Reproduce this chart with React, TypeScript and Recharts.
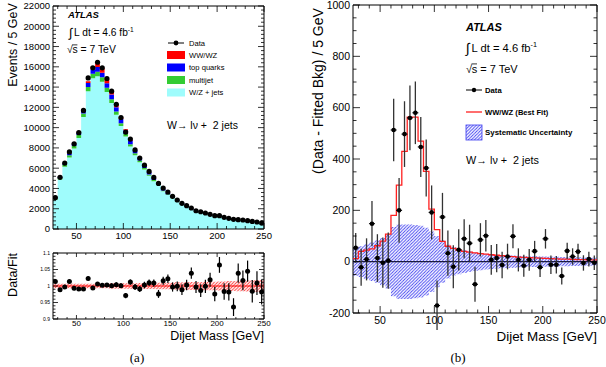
import React from 'react'
import {
  ComposedChart,
  Area,
  Line,
  Scatter,
  XAxis,
  YAxis,
  ErrorBar,
  ReferenceLine,
  ReferenceArea,
} from 'recharts'

// bin edges of the 5 GeV histogram (last entry closes the final bin)
const binEdges = [
  25, 30, 35, 40, 45, 50, 55, 60, 65, 70, 75, 80, 85, 90, 95, 100, 105, 110, 115, 120, 125, 130, 135,
  140, 145, 150, 155, 160, 165, 170, 175, 180, 185, 190, 195, 200, 205, 210, 215, 220, 225, 230, 235,
  240, 245, 250,
]

// (a) stacked prediction and data
const dataCounts = [
  3100, 5100, 6500, 7600, 8400, 9500, 11700, 14900, 15900, 16450, 15900, 14850, 13600, 12300, 11000,
  9560, 8870, 7800, 7000, 6300, 5680, 5090, 4500, 4040, 3650, 3220, 2860, 2530, 2300, 2070, 1800, 1700,
  1580, 1450, 1310, 1310, 1150, 1050, 950, 920, 890, 820, 750, 690, 600,
]
const wzJets = [
  2880, 4880, 6140, 7050, 7940, 8980, 11050, 13600, 14870, 15060, 14520, 13520, 12440, 11260, 10150,
  9130, 8140, 7280, 6580, 5860, 5250, 4720, 4330, 3720, 3350, 3040, 2700, 2410, 2160, 1880, 1700, 1630,
  1500, 1350, 1280, 1170, 1110, 1020, 970, 840, 835, 750, 725, 650, 585,
]
const multijet = [
  100, 150, 200, 230, 260, 290, 350, 420, 450, 460, 440, 410, 370, 330, 290, 250, 220, 190, 170, 150,
  130, 115, 100, 90, 80, 70, 60, 55, 50, 45, 40, 38, 35, 32, 30, 28, 26, 24, 22, 20, 19, 18, 17, 16, 15,
]
const topQuarks = [
  60, 100, 140, 170, 200, 240, 300, 380, 420, 450, 460, 460, 450, 430, 400, 370, 340, 300, 270, 240,
  210, 180, 160, 140, 120, 100, 90, 80, 70, 60, 50, 45, 40, 35, 30, 28, 25, 22, 20, 18, 16, 15, 14, 12, 10,
]
const dibosonStack = [
  20, 30, 40, 50, 60, 80, 110, 170, 260, 380, 450, 420, 330, 230, 150, 100, 70, 50, 40, 35, 30, 28, 25,
  22, 20, 18, 16, 14, 12, 11, 10, 9, 8, 8, 7, 7, 6, 6, 5, 5, 5, 4, 4, 4, 3,
]

// (a) lower pad: data / fit
const ratioValues = [
  1.014, 0.989, 0.997, 1.014, 0.993, 0.991, 0.991, 1.023, 0.994, 1.006, 1.002, 1.003, 1.001, 1.004,
  1.001, 0.971, 1.012, 0.997, 0.991, 1.003, 1.01, 1.009, 0.976, 1.016, 1.022, 0.997, 0.999, 0.989,
  1.003, 1.039, 0.997, 0.986, 0.999, 1.019, 0.976, 1.064, 0.983, 0.982, 0.936, 1.039, 1.017, 1.045,
  0.984, 1.009, 0.982,
]
const ratioErrors = [
  0.006, 0.006, 0.006, 0.006, 0.006, 0.006, 0.006, 0.006, 0.006, 0.006, 0.006, 0.006, 0.007, 0.007,
  0.007, 0.008, 0.008, 0.009, 0.009, 0.01, 0.01, 0.011, 0.012, 0.012, 0.013, 0.014, 0.015, 0.016,
  0.016, 0.017, 0.018, 0.019, 0.02, 0.021, 0.022, 0.024, 0.025, 0.026, 0.027, 0.029, 0.03, 0.032,
  0.034, 0.036, 0.038,
]
const fitBand = [
  0.007, 0.007, 0.007, 0.007, 0.007, 0.007, 0.007, 0.007, 0.007, 0.007, 0.007, 0.007, 0.008, 0.008,
  0.008, 0.008, 0.008, 0.008, 0.009, 0.009, 0.009, 0.009, 0.01, 0.01, 0.01, 0.01, 0.011, 0.011, 0.011,
  0.012, 0.012, 0.012, 0.013, 0.013, 0.013, 0.014, 0.014, 0.015, 0.015, 0.016, 0.016, 0.017, 0.017,
  0.018, 0.018,
]

// (b) background-subtracted data
const subtracted = [
  54, -22, 9, 148, 14, -4, 4, 513, 200, 497, 560, 580, 447, 365, 192, -171, 174, 33, -20, 46, 89, 72,
  -88, 85, 101, 7, 14, -13, 20, 99, 7, -16, 7, 41, -22, 89, -12, -12, -56, 42, 20, 39, -5, 10, -4,
]
const subtractedErrors = [
  58, 72, 82, 88, 93, 98, 110, 122, 126, 128, 126, 122, 117, 111, 105, 98, 94, 88, 84, 80, 76, 72, 68,
  65, 61, 58, 55, 52, 50, 47, 45, 43, 42, 40, 38, 38, 36, 34, 33, 32, 32, 31, 30, 29, 28,
]
const dibosonFit = [
  12, 40, 45, 50, 62, 80, 107, 180, 298, 430, 563, 563, 470, 352, 205, 125, 79, 60, 52, 45, 40, 37, 34,
  31, 29, 27, 25, 23, 21, 20, 18, 17, 16, 15, 14, 13, 12, 11, 10, 10, 9, 8, 8, 7, 7,
]
const systUnc = [
  55, 60, 68, 75, 82, 92, 105, 135, 145, 145, 145, 143, 140, 132, 118, 100, 82, 66, 56, 49, 44, 40, 36,
  33, 31, 29, 27, 26, 25, 24, 23, 22, 21, 21, 20, 20, 19, 19, 18, 18, 17, 17, 16, 16, 15,
]

const countTicks = [0, 2000, 4000, 6000, 8000, 10000, 12000, 14000, 16000, 18000, 20000, 22000]
const massTicks = [50, 100, 150, 200, 250]
const ratioTicks = [0.9, 0.95, 1, 1.05, 1.1]
const ratioTickLabels = ['0.9', '0.95', '1', '1.05', '1.1']
const diffTicks = [-200, 0, 200, 400, 600, 800, 1000]

const FONT = '"Liberation Sans", Arial, Helvetica, sans-serif'
const last = dataCounts.length - 1

const stackRows = binEdges.map((x, i) => {
  const j = Math.min(i, last)
  return { x, wz: wzJets[j], mj: multijet[j], top: topQuarks[j], vv: dibosonStack[j] }
})
const dataPoints = dataCounts.map((y, i) => ({ x: binEdges[i] + 2.5, y }))
const ratioRows = binEdges.map((x, i) => {
  const j = Math.min(i, last)
  return { x, band: [1 - fitBand[j], 1 + fitBand[j]] }
})
const ratioPoints = ratioValues.map((y, i) => ({ x: binEdges[i] + 2.5, y, e: ratioErrors[i] }))
const diffRows = binEdges.map((x, i) => {
  const j = Math.min(i, last)
  return { x, fit: dibosonFit[j], syst: [-systUnc[j], systUnc[j]] }
})
const diffPoints = subtracted.map((y, i) => ({ x: binEdges[i] + 2.5, y, e: subtractedErrors[i] }))

function steps(lo: number, hi: number, step: number) {
  const out: number[] = []
  const n = Math.round((hi - lo) / step)
  for (let i = 0; i <= n; i++) out.push(+(lo + i * step).toFixed(6))
  return out
}

type TickOpts = {
  plotLen: number
  majors: number[]
  labels: string[]
  font: number
  majorLen: number
  minorLen: number
  gap: number
}

// ROOT style: ticks inside on both sides, labels outside
function yTick(o: TickOpts) {
  return (p: any) => {
    const v = p.payload.value
    const k = o.majors.findIndex((m) => Math.abs(m - v) < 1e-6)
    const ax = p.x + o.gap
    const len = k >= 0 ? o.majorLen : o.minorLen
    return (
      <g>
        <line x1={ax} x2={ax + len} y1={p.y} y2={p.y} stroke="#000" strokeWidth={0.8} />
        <line x1={ax + o.plotLen - len} x2={ax + o.plotLen} y1={p.y} y2={p.y} stroke="#000" strokeWidth={0.8} />
        {k >= 0 && (
          <text x={p.x} y={p.y} dy="0.36em" textAnchor="end" fontSize={o.font} fontFamily={FONT} fill="#000">
            {o.labels[k]}
          </text>
        )}
      </g>
    )
  }
}

function xTick(o: TickOpts) {
  return (p: any) => {
    const v = p.payload.value
    const k = o.majors.findIndex((m) => Math.abs(m - v) < 1e-6)
    const ay = p.y - o.gap
    const len = k >= 0 ? o.majorLen : o.minorLen
    return (
      <g>
        <line x1={p.x} x2={p.x} y1={ay} y2={ay - len} stroke="#000" strokeWidth={0.8} />
        <line x1={p.x} x2={p.x} y1={ay - o.plotLen} y2={ay - o.plotLen + len} stroke="#000" strokeWidth={0.8} />
        {k >= 0 && (
          <text x={p.x} y={p.y} dy="0.72em" textAnchor="middle" fontSize={o.font} fontFamily={FONT} fill="#000">
            {o.labels[k]}
          </text>
        )}
      </g>
    )
  }
}

const dot = (r: number, arm: number) => (p: any) =>
  (
    <g>
      {arm > 0 && <line x1={p.cx - arm} x2={p.cx + arm} y1={p.cy} y2={p.cy} stroke="#000" strokeWidth={1} />}
      <circle cx={p.cx} cy={p.cy} r={r} fill="#000" />
    </g>
  )

function Hatch({ id, color }: { id: string; color: string }) {
  return (
    <pattern id={id} width={3.2} height={3.2} patternUnits="userSpaceOnUse">
      <path d="M-0.8,0.8 l1.6,-1.6 M0,3.2 l3.2,-3.2 M2.4,4 l1.6,-1.6" stroke={color} strokeWidth={0.9} />
    </pattern>
  )
}

function MainPanel() {
  return (
    <ComposedChart width={275} height={245} data={stackRows} margin={{ top: 6, right: 11, bottom: 0, left: 0 }}>
      <Area type="stepAfter" dataKey="wz" stackId="s" fill="#9ffcfc" fillOpacity={1} stroke="none" isAnimationActive={false} />
      <Area type="stepAfter" dataKey="mj" stackId="s" fill="#33cc33" fillOpacity={1} stroke="none" isAnimationActive={false} />
      <Area type="stepAfter" dataKey="top" stackId="s" fill="#0000ff" fillOpacity={1} stroke="none" isAnimationActive={false} />
      <Area type="stepAfter" dataKey="vv" stackId="s" fill="#ff0000" fillOpacity={1} stroke="none" isAnimationActive={false} />
      <Scatter data={dataPoints} dataKey="y" shape={dot(2.6, 0)} isAnimationActive={false} />
      <ReferenceArea x1={25} x2={250} y1={0} y2={22000} fill="none" stroke="#000" strokeWidth={1} />
      <XAxis
        type="number"
        dataKey="x"
        domain={[25, 250]}
        allowDataOverflow
        ticks={steps(30, 250, 10)}
        interval={0}
        height={16}
        tickSize={0}
        tickMargin={3}
        tickLine={false}
        axisLine={false}
        tick={xTick({ plotLen: 223, majors: massTicks, labels: massTicks.map(String), font: 9.5, majorLen: 6, minorLen: 3, gap: 3 })}
      />
      <YAxis
        type="number"
        domain={[0, 22000]}
        allowDataOverflow
        ticks={steps(0, 22000, 400)}
        interval={0}
        width={53}
        tickSize={0}
        tickMargin={3}
        tickLine={false}
        axisLine={false}
        tick={yTick({ plotLen: 211, majors: countTicks, labels: countTicks.map(String), font: 9.5, majorLen: 6, minorLen: 3, gap: 3 })}
      />
    </ComposedChart>
  )
}

function RatioPanel() {
  return (
    <ComposedChart width={275} height={86} data={ratioRows} margin={{ top: 6, right: 11, bottom: 0, left: 0 }}>
      <defs>
        <Hatch id="redHatch" color="#ff3030" />
      </defs>
      <Area type="stepAfter" dataKey="band" fill="url(#redHatch)" fillOpacity={1} stroke="none" isAnimationActive={false} />
      <ReferenceLine y={1} stroke="#ff0000" strokeWidth={1.2} />
      <Scatter data={ratioPoints} dataKey="y" shape={dot(2.5, 0)} isAnimationActive={false}>
        <ErrorBar dataKey="e" direction="y" width={0} stroke="#000" strokeWidth={1.2} />
      </Scatter>
      <ReferenceArea x1={25} x2={250} y1={0.9} y2={1.1} fill="none" stroke="#000" strokeWidth={1} />
      <XAxis
        type="number"
        dataKey="x"
        domain={[25, 250]}
        allowDataOverflow
        ticks={steps(30, 250, 10)}
        interval={0}
        height={14}
        tickSize={0}
        tickMargin={1}
        tickLine={false}
        axisLine={false}
        tick={xTick({ plotLen: 66, majors: massTicks, labels: massTicks.map(String), font: 8, majorLen: 4, minorLen: 2, gap: 1 })}
      />
      <YAxis
        type="number"
        domain={[0.9, 1.1]}
        allowDataOverflow
        ticks={steps(0.9, 1.1, 0.01)}
        interval={0}
        width={53}
        tickSize={0}
        tickMargin={3}
        tickLine={false}
        axisLine={false}
        tick={yTick({ plotLen: 211, majors: ratioTicks, labels: ratioTickLabels, font: 5, majorLen: 5, minorLen: 2.5, gap: 3 })}
      />
    </ComposedChart>
  )
}

function DiffPanel() {
  return (
    <ComposedChart width={306} height={330} data={diffRows} margin={{ top: 5, right: 9, bottom: 0, left: 0 }}>
      <defs>
        <Hatch id="blueHatch" color="#3b3bf0" />
      </defs>
      <Line type="stepAfter" dataKey="fit" stroke="#ff2020" strokeWidth={1.3} dot={false} isAnimationActive={false} />
      <Area type="stepAfter" dataKey="syst" fill="url(#blueHatch)" fillOpacity={1} stroke="none" isAnimationActive={false} />
      <ReferenceLine y={0} stroke="#1a1a40" strokeWidth={1.2} />
      <Scatter data={diffPoints} dataKey="y" shape={dot(2.3, 3)} isAnimationActive={false}>
        <ErrorBar dataKey="e" direction="y" width={0} stroke="#333" strokeWidth={1.3} />
      </Scatter>
      <ReferenceArea x1={25} x2={250} y1={-200} y2={1000} fill="none" stroke="#000" strokeWidth={1} />
      <XAxis
        type="number"
        dataKey="x"
        domain={[25, 250]}
        allowDataOverflow
        ticks={steps(30, 250, 10)}
        interval={0}
        height={17}
        tickSize={0}
        tickMargin={3}
        tickLine={false}
        axisLine={false}
        tick={xTick({ plotLen: 308, majors: massTicks, labels: massTicks.map(String), font: 10.5, majorLen: 7, minorLen: 3.5, gap: 3 })}
      />
      <YAxis
        type="number"
        domain={[-200, 1000]}
        allowDataOverflow
        ticks={steps(-200, 1000, 50)}
        interval={0}
        width={53}
        tickSize={0}
        tickMargin={3}
        tickLine={false}
        axisLine={false}
        tick={yTick({ plotLen: 244, majors: diffTicks, labels: diffTicks.map(String), font: 10.5, majorLen: 7, minorLen: 3.5, gap: 3 })}
      />
    </ComposedChart>
  )
}

function Lumi({ x, y, size }: { x: number; y: number; size: number }) {
  return (
    <g fontFamily={FONT} fill="#000">
      <text x={x} y={y + size * 0.12} fontSize={size * 1.25}>∫</text>
      <text x={x + size * 0.5} y={y} fontSize={size}>
        L dt = 4.6 fb
        <tspan dy={-size * 0.42} fontSize={size * 0.65}>-1</tspan>
      </text>
    </g>
  )
}

function Sqrts({ x, y, size }: { x: number; y: number; size: number }) {
  return (
    <g fontFamily={FONT} fill="#000">
      <text x={x} y={y} fontSize={size}>√</text>
      <line x1={x + size * 0.5} x2={x + size * 1.0} y1={y - size * 0.78} y2={y - size * 0.78} stroke="#000" strokeWidth={0.8} />
      <text x={x + size * 0.52} y={y} fontSize={size}>s = 7 TeV</text>
    </g>
  )
}

function Overlay() {
  const legendRows = [
    { label: 'WW/WZ', color: '#ff0000' },
    { label: 'top quarks', color: '#0000ff' },
    { label: 'multijet', color: '#33cc33' },
    { label: 'W/Z + jets', color: '#9ffcfc' },
  ]
  return (
    <svg width={606} height={367} style={{ position: 'absolute', left: 0, top: 0, pointerEvents: 'none' }}>
      <defs>
        <Hatch id="legendHatch" color="#3b3bf0" />
      </defs>
      {/* axis titles */}
      <text transform="rotate(-90, 17, 45)" x={17} y={45} textAnchor="middle" fontSize={12.4} fontFamily={FONT}>
        Events / 5 GeV
      </text>
      <text transform="rotate(-90, 17, 275)" x={17} y={275} textAnchor="middle" fontSize={12.5} fontFamily={FONT}>
        Data/Fit
      </text>
      <text x={264} y={340} textAnchor="end" fontSize={12.5} fontFamily={FONT}>
        Dijet Mass [GeV]
      </text>
      <text transform="rotate(-90, 323, 91)" x={323} y={91} textAnchor="middle" fontSize={14} fontFamily={FONT}>
        (Data - Fitted Bkg) / 5 GeV
      </text>
      <text x={597} y={341} textAnchor="end" fontSize={13.4} fontFamily={FONT}>
        Dijet Mass [GeV]
      </text>

      {/* captions */}
      <text x={137} y={362} textAnchor="middle" fontSize={13} fontFamily='"Liberation Serif", "DejaVu Serif", serif'>
        (a)
      </text>
      <text x={458} y={362} textAnchor="middle" fontSize={13} fontFamily='"Liberation Serif", "DejaVu Serif", serif'>
        (b)
      </text>

      {/* panel (a) labels */}
      <text x={68} y={18} fontSize={9.5} fontWeight="bold" fontStyle="italic" fontFamily={FONT}>ATLAS</text>
      <Lumi x={69} y={36} size={10.2} />
      <Sqrts x={67} y={53} size={10.4} />
      <line x1={168} x2={184} y1={43} y2={43} stroke="#000" strokeWidth={1} />
      <circle cx={176} cy={43} r={2.4} fill="#000" />
      <text x={189} y={45.8} fontSize={7.6} fontFamily={FONT}>Data</text>
      {legendRows.map((r, i) => (
        <g key={r.label}>
          <rect x={167} y={51 + i * 12.5} width={18} height={8} fill={r.color} />
          <text x={189} y={57.8 + i * 12.5} fontSize={7.6} fontFamily={FONT}>{r.label}</text>
        </g>
      ))}
      <text x={167} y={128.5} fontSize={10.5} fontFamily={FONT} style={{ whiteSpace: 'pre' }}>
        {'W\u2192 l\u03bd +  2 jets'}
      </text>

      {/* panel (b) labels */}
      <text x={466} y={31} fontSize={11} fontWeight="bold" fontStyle="italic" fontFamily={FONT}>ATLAS</text>
      <Lumi x={466} y={52} size={11.2} />
      <Sqrts x={466} y={72.5} size={11} />
      <line x1={466} x2={482} y1={90} y2={90} stroke="#000" strokeWidth={1} />
      <circle cx={474} cy={90} r={2.2} fill="#000" />
      <text x={485} y={92.8} fontSize={7.7} fontWeight="bold" fontFamily={FONT}>Data</text>
      <line x1={466} x2={482} y1={112} y2={112} stroke="#ff2020" strokeWidth={1.3} />
      <text x={485} y={114.8} fontSize={7.6} fontWeight="bold" fontFamily={FONT}>WW/WZ (Best Fit)</text>
      <rect x={466} y={125} width={16} height={15} fill="url(#legendHatch)" stroke="#3b3bf0" strokeWidth={0.8} />
      <text x={485} y={135} fontSize={7.9} fontWeight="bold" fontFamily={FONT}>Systematic Uncertainty</text>
      <text x={466} y={164} fontSize={10.8} fontFamily={FONT} style={{ whiteSpace: 'pre' }}>
        {'W\u2192 l\u03bd +  2 jets'}
      </text>
    </svg>
  )
}

export default function App() {
  return (
    <div style={{ position: 'absolute', left: 0, top: 0, width: 606, height: 367, background: '#fff', fontFamily: FONT }}>
      <div style={{ position: 'absolute', left: 0, top: 0 }}>
        <MainPanel />
      </div>
      <div style={{ position: 'absolute', left: 0, top: 247 }}>
        <RatioPanel />
      </div>
      <div style={{ position: 'absolute', left: 300, top: 0 }}>
        <DiffPanel />
      </div>
      <Overlay />
    </div>
  )
}
